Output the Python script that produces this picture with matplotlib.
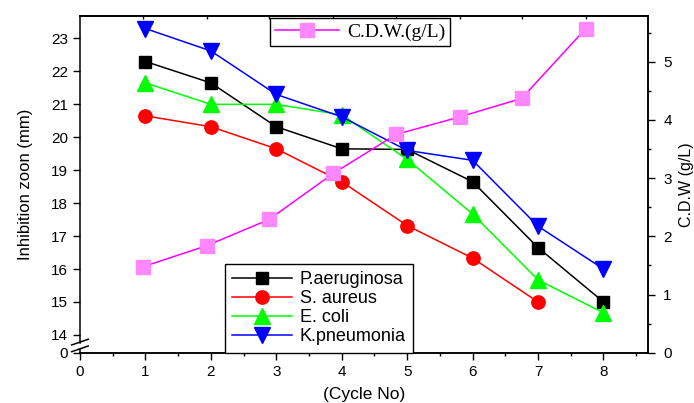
import matplotlib
matplotlib.use("Agg")
import matplotlib.pyplot as plt
from matplotlib.lines import Line2D

plt.rcParams['font.family'] = ['Liberation Sans', 'DejaVu Sans']

# Data
cycles = [1, 2, 3, 4, 5, 6, 7, 8]
p_aeruginosa = [22.3, 21.65, 20.32, 19.65, 19.63, 18.65, 16.65, 15.0]
s_aureus = [20.65, 20.32, 19.65, 18.65, 17.32, 16.33, 15.0]
e_coli = [21.65, 21.0, 21.0, 20.68, 19.33, 17.67, 15.67, 14.67]
k_pneumonia = [23.3, 22.62, 21.3, 20.62, 19.6, 19.3, 17.3, 16.0]

cdw_x = [0.97, 1.94, 2.89, 3.87, 4.83, 5.80, 6.75, 7.73]
cdw = [1.48, 1.84, 2.29, 3.08, 3.75, 4.05, 4.37, 5.57]

left_ticks = [14, 15, 16, 17, 18, 19, 20, 21, 22, 23]
y_bottom = 13.46  # broken axis: bottom of the axis is labelled 0

fig = plt.figure(figsize=(6.94, 4.03), dpi=100)
ax = fig.add_axes([0.1153, 0.1248, 0.8184, 0.8362])

lw = 1.1
l1, = ax.plot(cycles, p_aeruginosa, color='black', marker='s', ms=8.8, lw=lw, label='P.aeruginosa')
l2, = ax.plot(cycles[:7], s_aureus, color='red', marker='o', ms=9.6, lw=lw, label='S. aureus')
l3, = ax.plot(cycles, e_coli, color='#00ff00', marker='^', ms=11, lw=lw, label='E. coli')
l4, = ax.plot(cycles, k_pneumonia, color='blue', marker='v', ms=11, lw=lw, label='K.pneumonia')

ax.set_xlim(0, 8.68)
ax.set_ylim(y_bottom, 23.69)
ax.set_xticks(range(9))
ax.set_xticks([i + 0.5 for i in range(9)], minor=True)
ax.set_yticks([y_bottom] + left_ticks)
ax.set_yticklabels(['0'] + [str(t) for t in left_ticks])
ax.tick_params(axis='both', which='major', direction='out', length=5, width=1, labelsize=11)
ax.tick_params(axis='x', which='minor', direction='out', length=2.5, width=1)

# left spine drawn by hand with a break between 0 and 14
ax.spines['left'].set_visible(False)
ax.plot([0, 0], [0.0297, 1], transform=ax.transAxes, color='black', lw=1.1, clip_on=False)
ax.plot([0, 0], [0, 0.011], transform=ax.transAxes, color='black', lw=1.1, clip_on=False)
for yb in (0.003, 0.023):
    ax.add_line(Line2D([-0.0147, 0.0145], [yb, yb + 0.017], transform=ax.transAxes,
                       color='black', lw=1.1, clip_on=False))
for s in ['top', 'right', 'bottom']:
    ax.spines[s].set_linewidth(1.1)

ax.set_xlabel('(Cycle No)', fontsize=12.5, labelpad=6)
ax.set_ylabel('Inhibition zoon (mm)', fontsize=12, labelpad=13)

# right axis for dry weight
ax2 = ax.twinx()
l5, = ax2.plot(cdw_x, cdw, color='#ff00ff', marker='s', ms=9.5, mfc='#ff88ff', mec='#ff88ff',
               lw=lw, label='C.D.W.(g/L)')
ax2.set_ylim(0, 5.79)
ax2.set_yticks([0, 1, 2, 3, 4, 5])
ax2.set_yticks([0.5, 1.5, 2.5, 3.5, 4.5, 5.5], minor=True)
ax2.tick_params(axis='y', which='major', direction='out', length=5, width=1, labelsize=11, pad=6)
ax2.tick_params(axis='y', which='minor', direction='out', length=2.5, width=1)
ax2.set_ylabel('C.D.W (g/L)', fontsize=11.5, labelpad=5)
for s in ax2.spines.values():
    s.set_linewidth(1.1)
ax2.spines['left'].set_visible(False)

# small inward ticks on top at the dry weight positions
top = ax.secondary_xaxis('top')
top.set_xticks(cdw_x)
top.tick_params(direction='in', length=2.5, width=1, labeltop=False)
top.spines['top'].set_linewidth(1.1)

leg1 = ax2.legend(handles=[l5], loc='upper left', bbox_to_anchor=(0.3345, 0.992), borderaxespad=0,
                  fancybox=False, framealpha=1, edgecolor='black', handlelength=3.3,
                  prop={'family': 'Liberation Serif', 'size': 14}, borderpad=0.25,
                  handletextpad=0.4)
leg1.get_frame().set_linewidth(1.0)

leg2 = ax2.legend(handles=[l1, l2, l3, l4], loc='lower left', bbox_to_anchor=(0.255, 0.0),
                  borderaxespad=0, fancybox=False, framealpha=1, edgecolor='black',
                  handlelength=3.3, fontsize=13, labelspacing=0.12, borderpad=0.4,
                  handletextpad=0.45)
leg2.get_frame().set_linewidth(1.0)
ax2.add_artist(leg1)

fig.savefig('out.png', dpi=100)
